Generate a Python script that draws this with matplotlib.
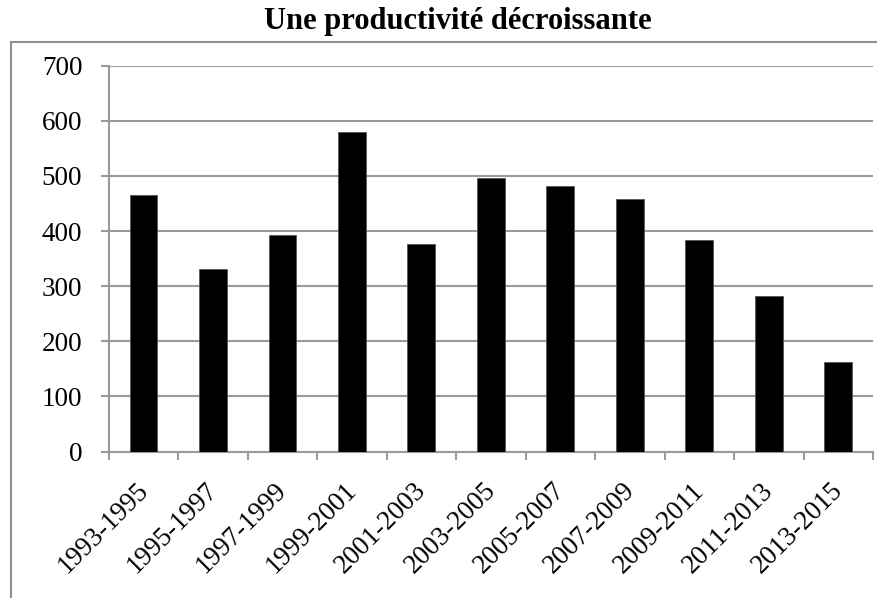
import matplotlib
matplotlib.use("Agg")
import matplotlib.pyplot as plt
from matplotlib.lines import Line2D
from matplotlib.transforms import ScaledTranslation
import numpy as np

categories = ["1993-1995", "1995-1997", "1997-1999", "1999-2001", "2001-2003",
              "2003-2005", "2005-2007", "2007-2009", "2009-2011", "2011-2013", "2013-2015"]
values = [465, 332, 393, 579, 376, 497, 481, 459, 383, 282, 162]
yticks = [0, 100, 200, 300, 400, 500, 600, 700]
title = "Une productivité décroissante"

W, H = 877, 598
fig = plt.figure(figsize=(W / 100, H / 100), dpi=100)
fig.patch.set_facecolor("white")

left, right, top, bottom = 108.7, 873, 65.7, 451.5
ax = fig.add_axes([left / W, 1 - bottom / H, (right - left) / W, (bottom - top) / H])

grey = "#9a9a9a"
x = np.arange(len(categories))
ax.bar(x, values, width=0.40, color="black", edgecolor="#555555", linewidth=0.6, zorder=3)

ax.set_xlim(-0.5, len(categories) - 0.5)
ax.set_ylim(0, 700)
ax.set_yticks(yticks)
ax.set_yticklabels([str(v) for v in yticks], fontsize=19.5, family="Liberation Serif")
ax.yaxis.grid(True, color=grey, linewidth=1.5, zorder=0)
ax.set_axisbelow(True)

ax.set_xticks(x)
ax.set_xticklabels(categories, rotation=45, ha="right", rotation_mode="anchor",
                   fontsize=19.5, family="Liberation Serif")
ax.tick_params(axis="x", which="major", length=0, pad=19)
shift = ScaledTranslation(-8 / 100, 0, fig.dpi_scale_trans)
for lab in ax.get_xticklabels():
    lab.set_transform(lab.get_transform() + shift)
ax.set_xticks(np.arange(-0.5, len(categories), 1.0), minor=True)
ax.tick_params(axis="x", which="minor", length=6, width=1.5, color=grey, direction="out")
ax.tick_params(axis="y", length=6, width=1.5, color=grey, pad=13)

for s in ["top", "right"]:
    ax.spines[s].set_visible(False)
for s in ["left", "bottom"]:
    ax.spines[s].set_color(grey)
    ax.spines[s].set_linewidth(1.5)

# outer chart frame (partially visible)
fx, fy = 10.5 / W, 1 - 41.5 / H
fig.add_artist(Line2D([fx, fx], [0, fy], transform=fig.transFigure, color="#8f8f8f", lw=1.5))
fig.add_artist(Line2D([fx, 1], [fy, fy], transform=fig.transFigure, color="#8f8f8f", lw=1.5))

fig.text(458 / W, 1 - 21 / H, title, ha="center", va="center", fontsize=22,
         fontweight="bold", family="Liberation Serif")

fig.savefig("out.png", dpi=100)
